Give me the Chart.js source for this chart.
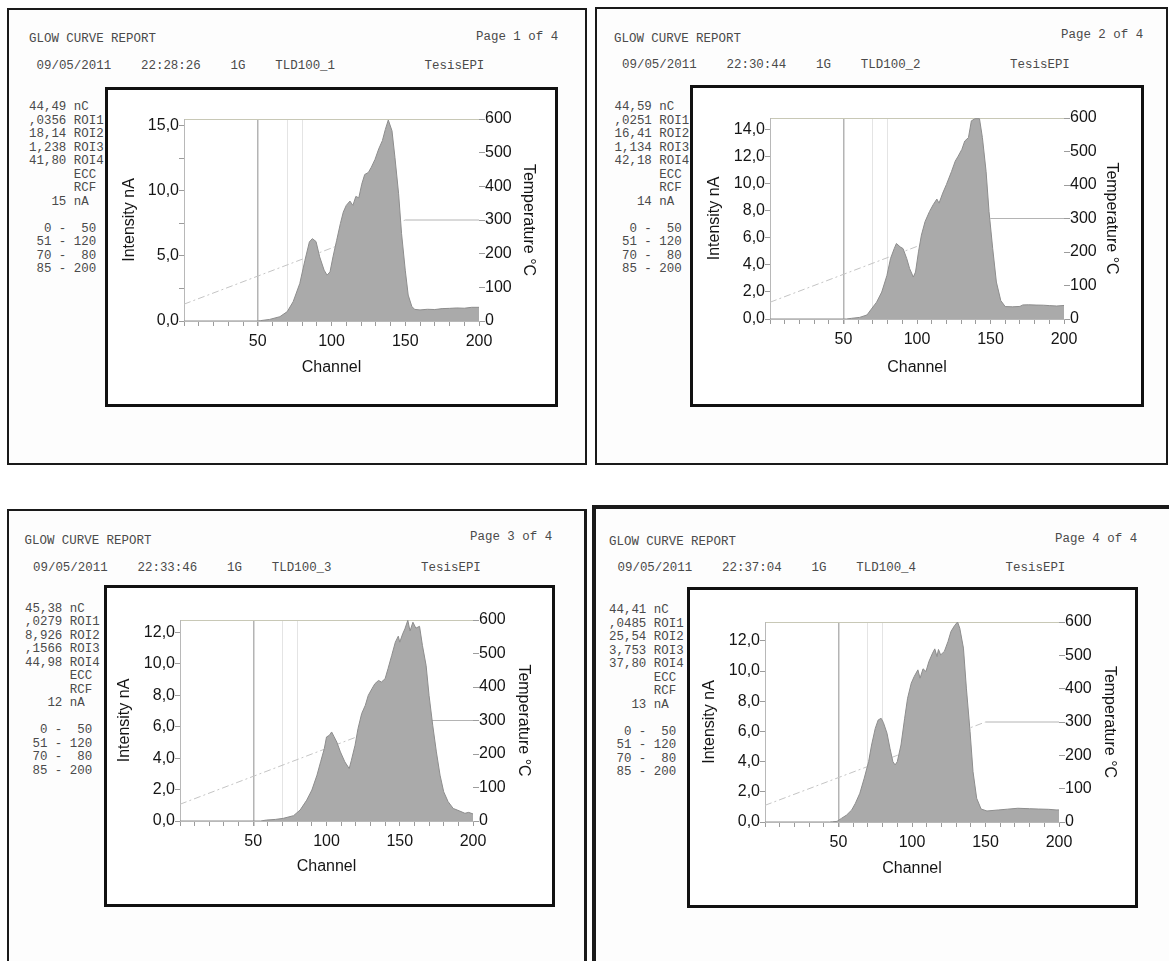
<!DOCTYPE html>
<html>
<head>
<meta charset="utf-8">
<script src="https://cdn.jsdelivr.net/npm/chart.js@4.4.1/dist/chart.umd.min.js"></script>
<style>
  html, body { margin: 0; padding: 0; background: #fff; }
  body { width: 1169px; height: 961px; position: relative; overflow: hidden; }
  .page { position: absolute; border: 2px solid #1a1a1a; box-sizing: border-box; background: #fdfdfd; }
  .mono { position: absolute; font-family: "Liberation Mono", "DejaVu Sans Mono", monospace; font-size: 12.45px;
          line-height: 13.5px; color: #4a4a4a; white-space: pre; margin: 0; }
  .box { position: absolute; border: 3px solid #111; box-sizing: border-box; background: #fff; }
  .box canvas { position: absolute; left: 0; top: 0; }
</style>
</head>
<body>
<script>
// ---- glow curves (channel, intensity nA) ----
const ch1 = [0, 50, 52, 58, 65, 70, 74, 78.5, 82, 85, 87, 89.5, 92, 95, 97, 99, 101, 103.5, 106, 108, 110, 112.5, 114.5, 116.5, 118.5, 120.5, 122.5, 125, 127, 129.5, 132, 134.5, 136.5, 138.5, 141, 143, 145.5, 147.5, 150, 152, 154.5, 156.5, 160, 165, 170, 175, 180, 185, 190, 195, 200];
const nA1 = [0, 0, 0.03, 0.12, 0.33, 0.72, 1.48, 2.88, 4.66, 6.07, 6.32, 6.1, 4.92, 3.9, 3.52, 3.77, 4.92, 6.19, 7.47, 8.36, 8.87, 9.2, 8.87, 9.56, 9.45, 10.5, 11.24, 11.4, 11.8, 12.4, 13.2, 13.84, 14.7, 15.42, 14.6, 12.56, 9.76, 6.7, 3.9, 1.99, 1.1, 0.89, 0.85, 0.9, 0.88, 0.95, 0.97, 1.0, 0.98, 1.05, 1.05];

const ch2 = [0, 52, 55.5, 61, 66, 69, 72.5, 76, 79.5, 82, 84.5, 86, 88.5, 90.5, 93, 95, 97.5, 99, 101, 103, 105.5, 108.5, 111, 113.5, 115, 117.5, 120, 123.5, 126, 128, 130.5, 132.5, 135, 137, 139.5, 142.5, 144.5, 147, 149, 151.5, 154, 157, 160, 165, 170, 172, 176, 181, 186, 190, 195, 200];
const nA2 = [0, 0, 0.05, 0.12, 0.3, 0.74, 1.24, 1.99, 3.2, 4.47, 5.2, 5.58, 5.33, 5.2, 4.47, 3.72, 3.1, 3.47, 4.96, 6.2, 7.2, 7.94, 8.44, 8.86, 8.56, 9.3, 9.93, 10.9, 11.66, 12.03, 12.53, 13.15, 13.4, 14.64, 14.8, 14.8, 13.4, 10.9, 7.94, 5.2, 2.73, 1.36, 0.92, 0.9, 0.93, 1.04, 1.05, 1.03, 1.02, 0.99, 0.96, 1.0];

const ch3 = [0, 55, 59, 65, 70.5, 77.5, 82, 86.5, 90, 93.5, 96, 98.5, 100, 102, 103.5, 105, 107, 109.5, 112.5, 115.5, 117, 119.5, 121.5, 124, 126.5, 128.5, 131, 133, 135.5, 137.5, 140, 142, 144.5, 147, 149, 150, 152, 153.5, 155.5, 157, 159, 161, 163.5, 165.5, 168, 170, 172.5, 175, 177.5, 180, 183, 186.5, 191, 194.5, 197, 200];
const nA3 = [0, 0, 0.06, 0.1, 0.17, 0.34, 0.7, 1.33, 1.97, 2.92, 3.77, 4.61, 5.35, 5.46, 5.67, 5.4, 5.03, 4.4, 3.77, 3.34, 3.87, 4.83, 5.88, 6.84, 7.37, 8.0, 8.42, 8.74, 8.95, 8.85, 9.06, 9.7, 10.54, 11.39, 11.77, 11.39, 11.92, 12.23, 12.78, 12.1, 12.66, 12.28, 12.4, 11.17, 9.9, 8.0, 6.1, 4.4, 2.92, 1.86, 1.23, 0.8, 0.63, 0.49, 0.55, 0.45];

const ch4 = [0, 44, 46, 49, 52, 55.5, 59, 61.5, 64.5, 67.5, 70.5, 72.5, 75, 77, 79, 80.5, 83, 85, 87, 88.5, 90, 92.5, 95, 97, 99.5, 101.5, 104, 105.5, 107.5, 109.5, 111.5, 114, 115.5, 117, 118, 119.5, 122, 124.5, 126.5, 129, 131, 132.5, 135, 137, 139.5, 141.5, 144, 147, 151, 159, 165, 172, 180, 186, 193, 198, 200];
const nA4 = [0, 0, 0.02, 0.04, 0.24, 0.46, 0.8, 1.24, 1.9, 2.9, 4.0, 5.1, 6.2, 6.76, 6.87, 6.6, 5.88, 4.89, 4.0, 3.78, 4.0, 5.1, 6.87, 8.2, 9.2, 9.64, 10.08, 9.53, 10.15, 9.97, 10.63, 11.19, 11.47, 10.96, 11.43, 11.07, 11.3, 11.96, 12.62, 13.02, 13.25, 12.84, 11.52, 8.87, 5.99, 3.34, 1.57, 0.86, 0.73, 0.8, 0.85, 0.91, 0.88, 0.86, 0.84, 0.8, 0.8];

// heating profile (channel, °C) and ROI boundaries drawn on the plots
const tempCh = [0, 150, 200];
const tempC = [50, 300, 300];
const roiLines = [50, 70, 80];

// report header / side texts
const pageNames = ['Page 1 of 4', 'Page 2 of 4', 'Page 3 of 4', 'Page 4 of 4'];
const times = ['22:28:26', '22:30:44', '22:33:46', '22:37:04'];
const dosimeters = ['TLD100_1', 'TLD100_2', 'TLD100_3', 'TLD100_4'];
const charges = ['44,49', '44,59', '45,38', '44,41'];
const roi1 = [',0356', ',0251', ',0279', ',0485'];
const roi2 = ['18,14', '16,41', '8,926', '25,54'];
const roi3 = ['1,238', '1,134', ',1566', '3,753'];
const roi4 = ['41,80', '42,18', '44,98', '37,80'];
const fullScale = ['15', '14', '12', '13'];
const ranges = ['  0 -  50', ' 51 - 120', ' 70 -  80', ' 85 - 200'];

// per-page axis maxima and tick steps
const yMax = [15.5, 14.85, 12.8, 13.25];
const yMinor = [2.5, 1, 1, 1];
const yMajor = [5, 2, 2, 2];

// page geometry (px in the window)
const layouts = [
  { page: [7, 8, 580, 457], box: [105, 87, 558, 407], plot: [184, 119, 479, 321],
    titleL: 130, titleR: 528, titleB: 368, report: [29, 40], pageLbl: [476, 38], date: [36.5, 67], stats: [29, 108] },
  { page: [595, 7, 573, 458], box: [690, 85, 1144, 407], plot: [770, 118, 1064, 319],
    titleL: 715, titleR: 1111, titleB: 368, report: [614, 39.5], pageLbl: [1061, 36], date: [622, 66], stats: [614.5, 108] },
  { page: [7, 509, 580, 470], box: [104, 585, 555, 907], plot: [180, 620, 473, 821],
    titleL: 125, titleR: 523, titleB: 867, report: [24.5, 542], pageLbl: [470, 537.5], date: [33, 568.5], stats: [25, 609.5] },
  { page: [592, 505, 590, 470], box: [687, 587, 1138, 908], plot: [765, 622, 1059, 822],
    titleL: 710, titleR: 1109, titleB: 869, report: [609, 543], pageLbl: [1055, 539.5], date: [617.5, 569], stats: [609, 611] }
];
const glowData = [[ch1, nA1], [ch2, nA2], [ch3, nA3], [ch4, nA4]];

Chart.defaults.font.family = '"Liberation Sans", Arial, sans-serif';
Chart.defaults.color = '#151515';
const AXIS_FONT = { size: 16 };
const LH = 16 * 1.2;

function addText(cls, txt, x, yc) {
  const el = document.createElement('div');
  el.className = cls;
  el.textContent = txt;
  el.style.left = x + 'px';
  el.style.top = (yc - 6.75) + 'px';
  document.body.appendChild(el);
  return el;
}

function fmtComma(v) { return v.toFixed(1).replace('.', ','); }

layouts.forEach((L, i) => {
  // paper sheet
  const pg = document.createElement('div');
  pg.className = 'page';
  Object.assign(pg.style, { left: L.page[0] + 'px', top: L.page[1] + 'px', width: L.page[2] + 'px', height: L.page[3] + 'px' });
  if (i === 3) { pg.style.borderTopWidth = '4px'; pg.style.borderLeftWidth = '4px'; }
  if (i === 2) pg.style.borderRightWidth = '3px';
  document.body.appendChild(pg);

  // header lines
  addText('mono', 'GLOW CURVE REPORT', L.report[0], L.report[1]);
  addText('mono', pageNames[i], L.pageLbl[0], L.pageLbl[1]);
  addText('mono', '09/05/2011    ' + times[i] + '    1G    ' + dosimeters[i] + '            TesisEPI', L.date[0], L.date[1]);

  // side column
  const lines = [
    charges[i] + ' nC', roi1[i] + ' ROI1', roi2[i] + ' ROI2', roi3[i] + ' ROI3', roi4[i] + ' ROI4',
    '      ECC', '      RCF', '   ' + fullScale[i] + ' nA', ''
  ].concat(ranges);
  addText('mono', lines.join('\n'), L.stats[0], L.stats[1]);

  // framed graph
  const [bl, bt, br, bb] = L.box;
  const box = document.createElement('div');
  box.className = 'box';
  Object.assign(box.style, { left: bl + 'px', top: bt + 'px', width: (br - bl) + 'px', height: (bb - bt) + 'px' });
  document.body.appendChild(box);

  const inL = bl + 3, inT = bt + 3, inR = br - 3, inB = bb - 3;
  const cv = document.createElement('canvas');
  cv.width = inR - inL;
  cv.height = inB - inT;
  box.appendChild(cv);

  const [pl, pt, pr, pb] = L.plot;
  const [xs, ys] = glowData[i];
  const major = yMajor[i];

  new Chart(cv, {
    type: 'line',
    data: {
      datasets: [
        {
          label: 'Intensity',
          yAxisID: 'y',
          data: xs.map((c, k) => ({ x: c, y: ys[k] })),
          borderColor: '#8d8d8d',
          borderWidth: 1,
          backgroundColor: '#aaaaaa',
          fill: 'origin',
          pointRadius: 0,
          tension: 0
        },
        {
          // heating ramp, sits behind the glow curve
          label: 'Temperature',
          yAxisID: 'yT',
          data: tempCh.map((c, k) => ({ x: c, y: tempC[k] })),
          borderColor: '#bdbdbd',
          borderWidth: 1,
          pointRadius: 0,
          fill: false,
          segment: {
            borderDash: s => (s.p1.parsed.y !== s.p0.parsed.y ? [7, 3, 2, 3] : undefined),
            borderColor: s => (s.p1.parsed.y !== s.p0.parsed.y ? '#c4c4c4' : '#b4b4b4')
          }
        }
      ]
    },
    options: {
      responsive: false,
      animation: false,
      devicePixelRatio: 1,
      layout: { padding: { top: pt - inT, left: 0, right: 0, bottom: 0 } },
      plugins: { legend: { display: false }, tooltip: { enabled: false } },
      scales: {
        x: {
          type: 'linear', position: 'bottom', min: 0, max: 200,
          afterFit: s => { s.height = inB - pb; },
          ticks: {
            stepSize: 10, autoSkip: false, maxRotation: 0, padding: 6, font: AXIS_FONT,
            callback: v => (v > 0 && v % 50 === 0 ? String(v) : '')
          },
          grid: {
            drawOnChartArea: true,
            color: c => (c.tick && roiLines.includes(c.tick.value) ? (c.tick.value === 50 ? '#b4b4b4' : '#e4e4e4') : 'rgba(0,0,0,0)'),
            lineWidth: c => (c.tick && c.tick.value === 50 ? 1.5 : 1),
            tickColor: '#9c9c9c', tickLength: 5
          },
          border: { color: '#b8b8b8', width: 1 },
          title: { display: true, text: 'Channel', font: AXIS_FONT, padding: { top: 0, bottom: inB - L.titleB - LH / 2 } }
        },
        y: {
          position: 'left', min: 0, max: yMax[i],
          afterFit: s => { s.width = pl - inL; },
          ticks: {
            stepSize: yMinor[i], includeBounds: false, padding: 0, font: AXIS_FONT,
            callback: v => (Math.abs(v / major - Math.round(v / major)) < 1e-6 ? fmtComma(v) : '')
          },
          grid: { drawOnChartArea: false, tickColor: '#9c9c9c', tickLength: 5 },
          border: { color: '#b8b8b8', width: 1 },
          title: { display: true, text: 'Intensity nA', font: AXIS_FONT, padding: { top: L.titleL - inL - LH / 2, bottom: 0 } }
        },
        yT: {
          position: 'right', min: 0, max: 600,
          afterFit: s => { s.width = inR - pr; },
          ticks: {
            stepSize: 50, padding: 0, font: AXIS_FONT,
            callback: v => (v % 100 === 0 ? String(v) : '')
          },
          grid: {
            drawOnChartArea: true,
            color: c => (c.tick && c.tick.value === 600 ? '#c8c8b6' : 'rgba(0,0,0,0)'),
            tickColor: '#9c9c9c', tickLength: 6
          },
          border: { display: false },
          title: { display: true, text: 'Temperature °C', font: AXIS_FONT, padding: { top: inR - L.titleR - LH / 2, bottom: 0 } }
        }
      }
    }
  });
});
</script>
</body>
</html>
